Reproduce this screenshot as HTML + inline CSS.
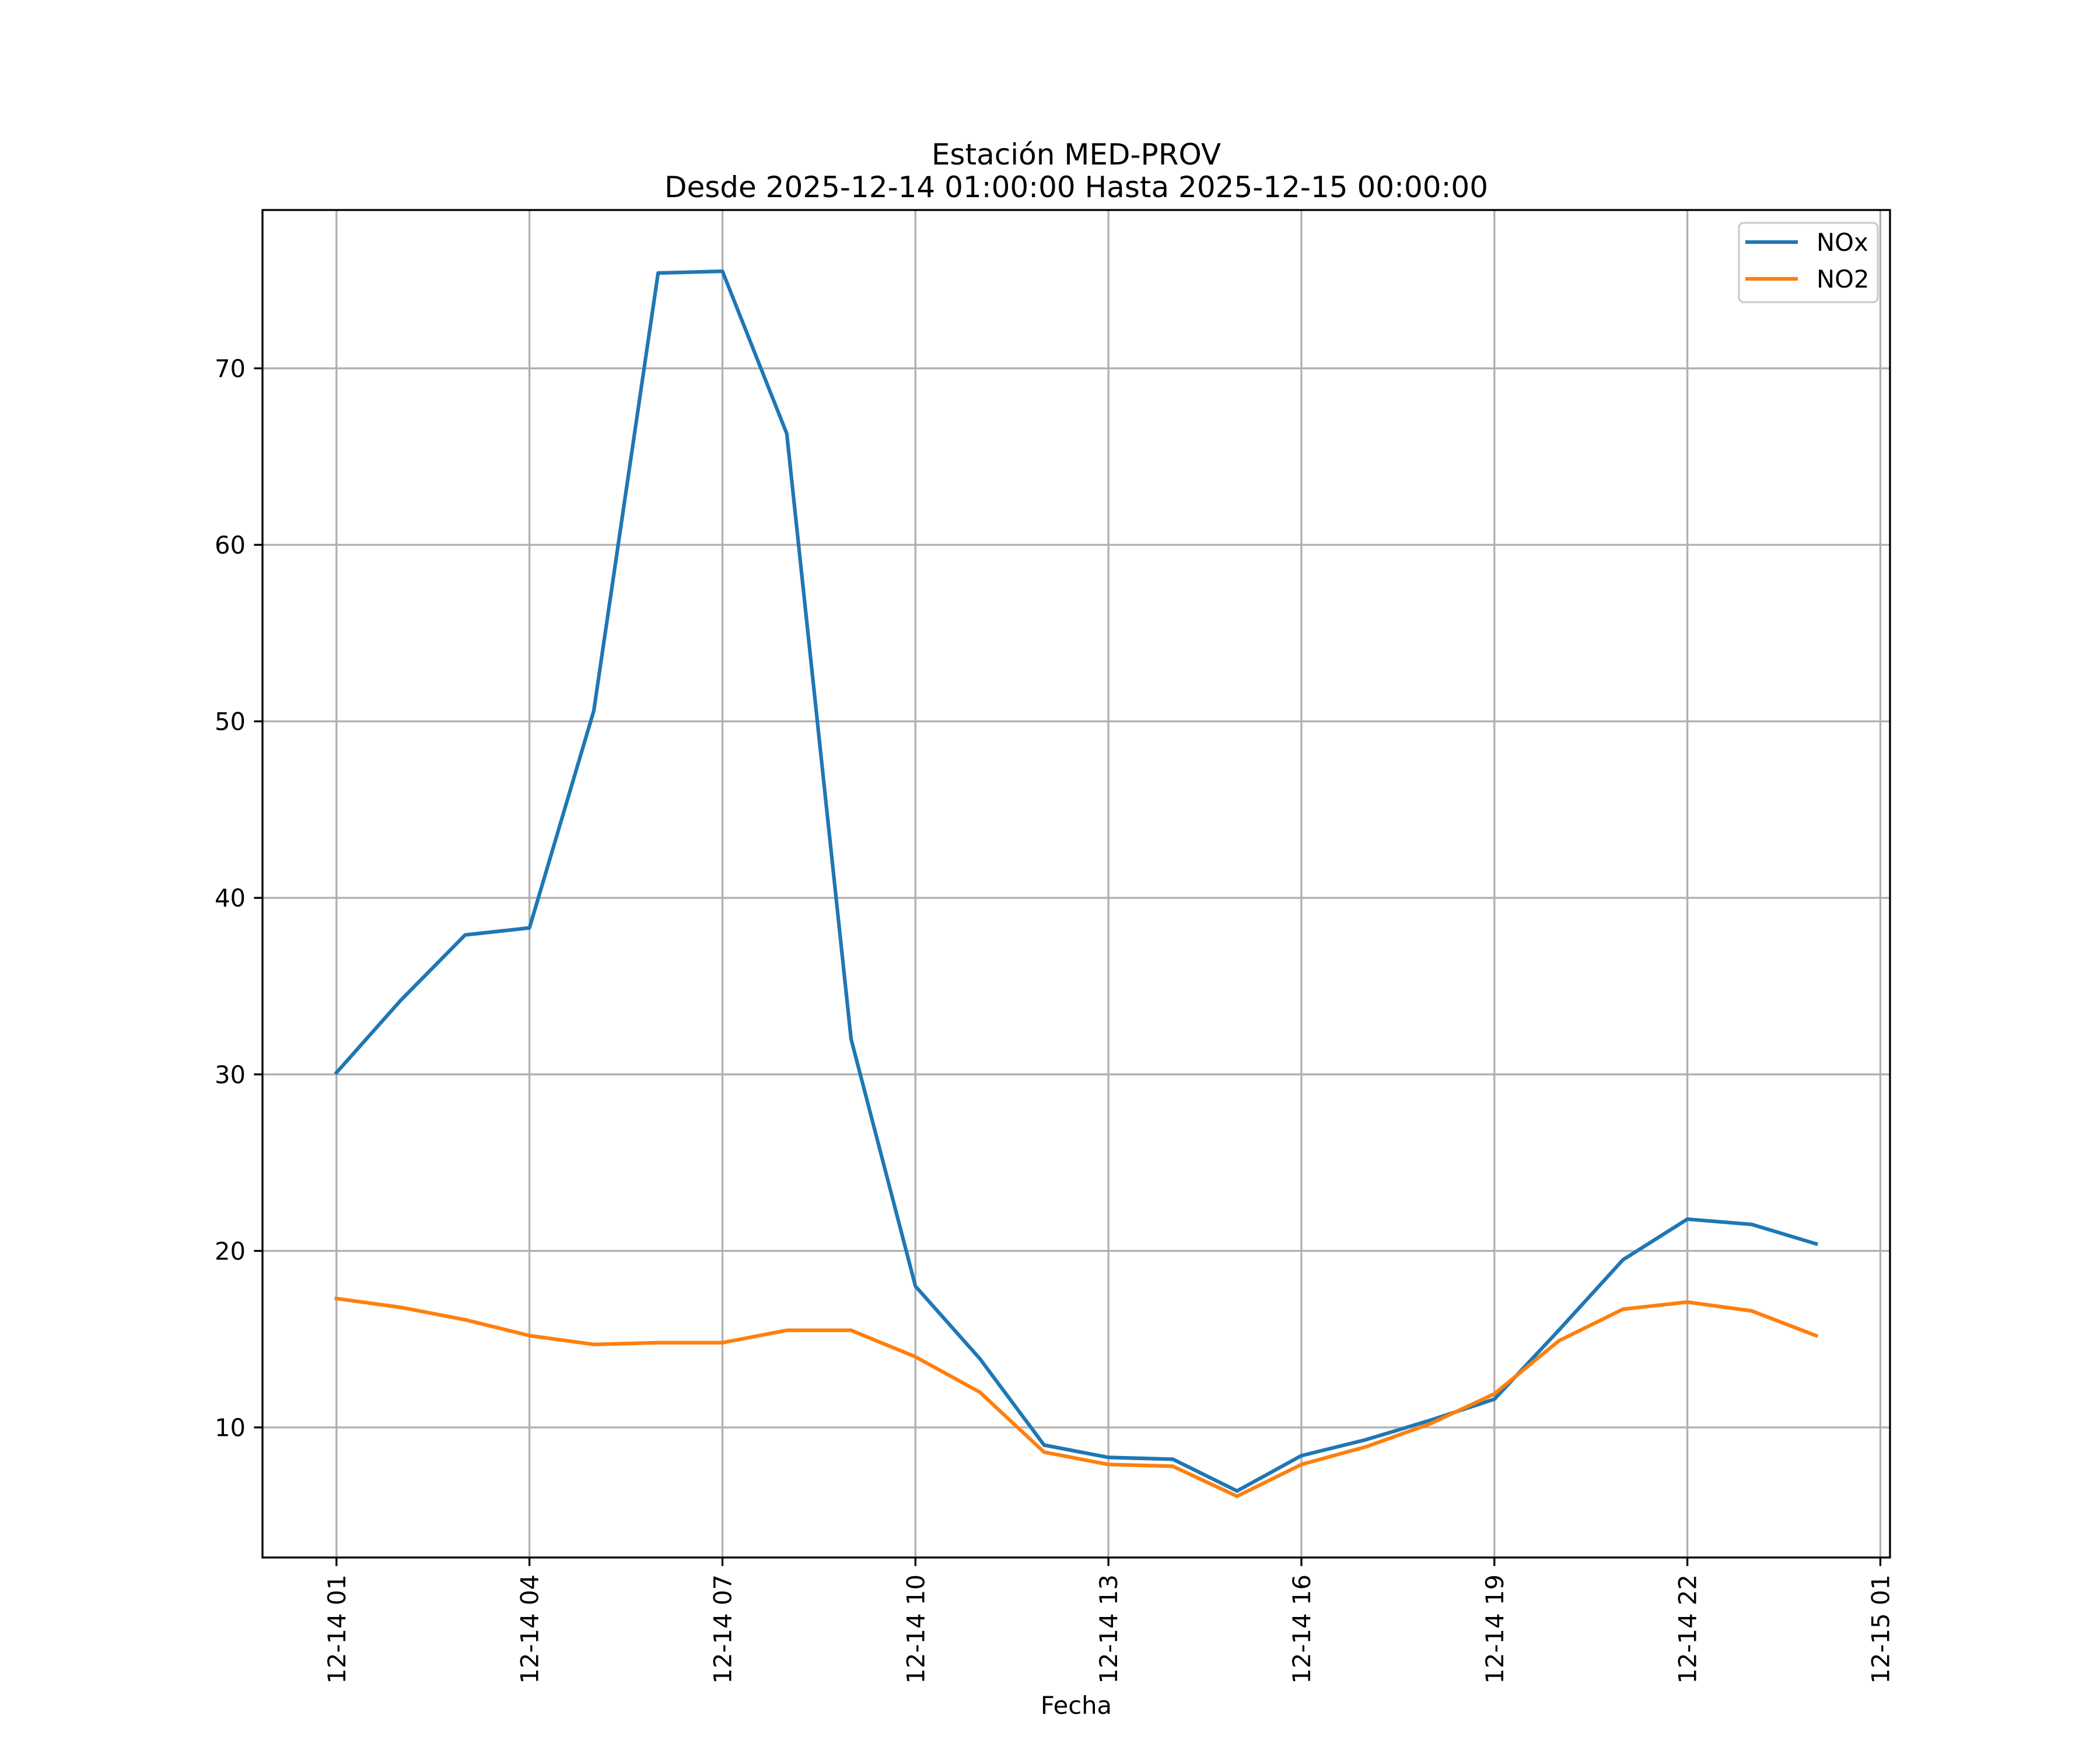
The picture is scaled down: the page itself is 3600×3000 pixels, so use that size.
<!DOCTYPE html>
<html><head><meta charset="utf-8"><style>
html,body{margin:0;padding:0;background:#fff;}
svg{display:block;font-family:"DejaVu Sans","Liberation Sans",sans-serif;}
</style></head><body>
<svg id="chart" xmlns="http://www.w3.org/2000/svg" width="3600" height="3000" viewBox="0 0 3600 3000">
<rect width="3600" height="3000" fill="#fff"/>
<text x="1845" y="282" font-size="50" text-anchor="middle">Estación MED-PROV</text>
<text x="1845" y="338" font-size="50" text-anchor="middle">Desde 2025-12-14 01:00:00 Hasta 2025-12-15 00:00:00</text>
<g id="grid"></g>
<g id="series"></g>
<rect x="450" y="360" width="2790" height="2310" fill="none" stroke="#000" stroke-width="3.3"/>
<g id="axes"></g>
<text x="1845" y="2938" font-size="41.7" text-anchor="middle">Fecha</text>
<g>
<rect x="2981" y="382" width="238" height="136" rx="8" fill="#fff" fill-opacity="0.8" stroke="#cccccc" stroke-width="3.3"/>
<line x1="2992" y1="415" x2="3082" y2="415" stroke="#1f77b4" stroke-width="6.25"/>
<text x="3114" y="430" font-size="41.7">NOx</text>
<line x1="2992" y1="478" x2="3082" y2="478" stroke="#ff7f0e" stroke-width="6.25"/>
<text x="3114" y="493" font-size="41.7">NO2</text>
</g>
</svg>
<script>
const hours = [0,1,2,3,4,5,6,7,8,9,10,11,12,13,14,15,16,17,18,19,20,21,22,23];
const noxValues = [30.1,34.2,37.9,38.3,50.6,75.4,75.5,66.3,32.0,18.0,13.9,9.0,8.3,8.2,6.4,8.4,9.3,10.4,11.6,15.5,19.5,21.8,21.5,20.4];
const no2Values = [17.3,16.8,16.1,15.2,14.7,14.8,14.8,15.5,15.5,14.0,12.0,8.6,7.9,7.8,6.1,7.9,8.9,10.2,11.9,14.9,16.7,17.1,16.6,15.2];
const yTicks = [10,20,30,40,50,60,70];
const xTickHours = [0,3,6,9,12,15,18,21,24];
const xTickLabels = ["12-14 01","12-14 04","12-14 07","12-14 10","12-14 13","12-14 16","12-14 19","12-14 22","12-15 01"];

const NS = "http://www.w3.org/2000/svg";
const L=450,R=3240,T=360,B=2670;
const hMin=Math.min(...hours),hMax=Math.max(...hours),hPad=(hMax-hMin)*0.05;
const all=noxValues.concat(no2Values);
const vMin=Math.min(...all),vMax=Math.max(...all),vPad=(vMax-vMin)*0.05;
const x0=hMin-hPad,x1=hMax+hPad,y0=vMin-vPad,y1=vMax+vPad;
function xs(h){return L+(h-x0)/(x1-x0)*(R-L);}
function ys(v){return B-(v-y0)/(y1-y0)*(B-T);}
function mk(tag,attrs,parent){const e=document.createElementNS(NS,tag);for(const k in attrs)e.setAttribute(k,attrs[k]);parent.appendChild(e);return e;}
const grid=document.getElementById('grid'),axes=document.getElementById('axes'),series=document.getElementById('series');

yTicks.forEach(v=>{
  const y=ys(v);
  const g=mk('line',{x1:L,x2:R,y1:y,y2:y,stroke:'#b0b0b0','stroke-width':3.3},grid);
  
  
  const t=mk('line',{x1:L-14.6,x2:L,y1:y,y2:y,stroke:'#000','stroke-width':3.3},axes);
  
  
  const lb=mk('text',{x:L-29,y:y+15,'font-size':41.7,'text-anchor':'end'},axes);
  lb.textContent=v;
  
  
});
xTickHours.forEach((h,i)=>{
  const x=xs(h);
  const g=mk('line',{x1:x,x2:x,y1:T,y2:B,stroke:'#b0b0b0','stroke-width':3.3},grid);
  
  
  const t=mk('line',{x1:x,x2:x,y1:B,y2:B+14.6,stroke:'#000','stroke-width':3.3},axes);
  
  
  const lb=mk('text',{x:0,y:0,'font-size':41.7,'text-anchor':'end',transform:`translate(${x+15},${B+29}) rotate(-90)`},axes);
  lb.textContent=xTickLabels[i];
  
  
});
function line(vals,color,name){
  const p=mk('polyline',{points:vals.map((v,i)=>xs(hours[i])+','+ys(v)).join(' '),fill:'none',stroke:color,'stroke-width':6.25,'stroke-linejoin':'round','stroke-linecap':'square'},series);
  
  
}
line(noxValues,'#1f77b4','nox-line');
line(no2Values,'#ff7f0e','no2-line');
</script>
</body></html>
